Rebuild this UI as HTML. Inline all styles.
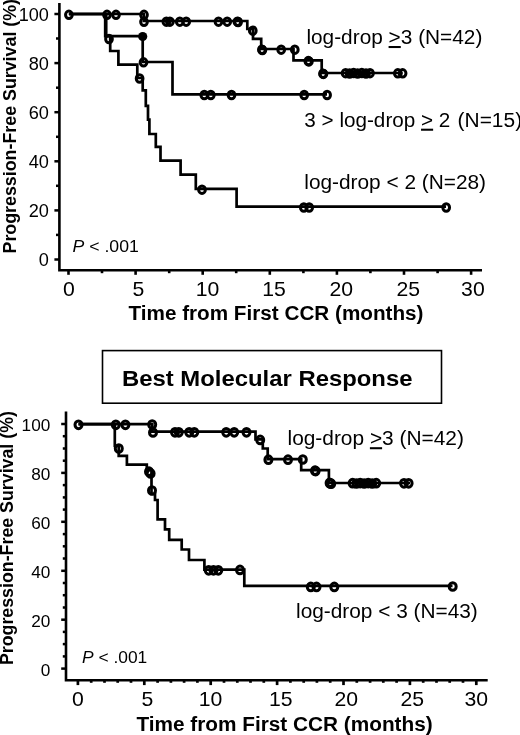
<!DOCTYPE html>
<html><head><meta charset="utf-8"><title>Progression-Free Survival</title>
<style>html,body{margin:0;padding:0;background:#fff}body{width:520px;height:735px;overflow:hidden}</style>
</head><body>
<svg width="520" height="735" viewBox="0 0 520 735" style="display:block;filter:grayscale(1)">
<rect width="520" height="735" fill="#fff"/>
<g fill="none" stroke="#000" stroke-linecap="butt" stroke-linejoin="miter">
<path d="M59.4,3 V270.2 H482" stroke-width="2.6"/>
<path d="M54.4,259.5 H59.4" stroke-width="2.5"/>
<path d="M56.0,234.9 H59.4" stroke-width="2.5"/>
<path d="M54.4,210.4 H59.4" stroke-width="2.5"/>
<path d="M56.0,185.8 H59.4" stroke-width="2.5"/>
<path d="M54.4,161.3 H59.4" stroke-width="2.5"/>
<path d="M56.0,136.8 H59.4" stroke-width="2.5"/>
<path d="M54.4,112.2 H59.4" stroke-width="2.5"/>
<path d="M56.0,87.7 H59.4" stroke-width="2.5"/>
<path d="M54.4,63.1 H59.4" stroke-width="2.5"/>
<path d="M56.0,38.5 H59.4" stroke-width="2.5"/>
<path d="M54.4,14.0 H59.4" stroke-width="2.5"/>
<path d="M68.5,270.2 V274.8" stroke-width="2.6"/>
<path d="M102.0,270.2 V273.2" stroke-width="2.6"/>
<path d="M135.6,270.2 V274.8" stroke-width="2.6"/>
<path d="M169.2,270.2 V273.2" stroke-width="2.6"/>
<path d="M202.7,270.2 V274.8" stroke-width="2.6"/>
<path d="M236.2,270.2 V273.2" stroke-width="2.6"/>
<path d="M269.8,270.2 V274.8" stroke-width="2.6"/>
<path d="M303.4,270.2 V273.2" stroke-width="2.6"/>
<path d="M336.9,270.2 V274.8" stroke-width="2.6"/>
<path d="M370.4,270.2 V273.2" stroke-width="2.6"/>
<path d="M404.0,270.2 V274.8" stroke-width="2.6"/>
<path d="M437.6,270.2 V273.2" stroke-width="2.6"/>
<path d="M471.1,270.2 V274.8" stroke-width="2.6"/>
<path d="M68.9,14.0 L143.8,14.0 L143.8,21.0 L247.3,21.0 L247.3,29.0 L253.0,29.0 L253.0,38.8 L261.2,38.8 L261.2,49.0 L293.5,49.0 L293.5,60.4 L321.7,60.4 L321.7,73.0 L402.5,73.0" stroke-width="2.7"/>
<path d="M68.9,14.0 L105.2,14.0 L105.2,36.2 L142.7,36.2 L142.7,62.0 L172.5,62.0 L172.5,94.3 L327.0,94.3" stroke-width="2.7"/>
<path d="M68.9,14.0 L106.2,14.0 L106.2,36.2 L110.2,36.2 L110.2,51.0 L118.4,51.0 L118.4,64.7 L137.3,64.7 L137.3,78.0 L142.7,78.0 L142.7,90.4 L145.8,90.4 L145.8,105.8 L148.0,105.8 L148.0,119.6 L149.4,119.6 L149.4,134.0 L155.8,134.0 L155.8,146.8 L160.5,146.8 L160.5,160.6 L180.6,160.6 L180.6,174.6 L195.8,174.6 L195.8,188.8 L236.6,188.8 L236.6,206.6 L446.0,206.6" stroke-width="2.7"/>
<ellipse cx="68.9" cy="14.8" rx="3.35" ry="3.75" stroke-width="3.0"/>
<ellipse cx="107" cy="14.8" rx="3.35" ry="3.75" stroke-width="3.0"/>
<ellipse cx="116" cy="14.8" rx="3.35" ry="3.75" stroke-width="3.0"/>
<ellipse cx="144" cy="14.8" rx="3.35" ry="3.75" stroke-width="3.0"/>
<ellipse cx="144" cy="21.8" rx="3.35" ry="3.75" stroke-width="3.0"/>
<ellipse cx="166.4" cy="21.7" rx="3.35" ry="3.75" stroke-width="3.0"/>
<ellipse cx="169.9" cy="21.7" rx="3.35" ry="3.75" stroke-width="3.0"/>
<ellipse cx="179.8" cy="21.7" rx="3.35" ry="3.75" stroke-width="3.0"/>
<ellipse cx="186.2" cy="21.7" rx="3.35" ry="3.75" stroke-width="3.0"/>
<ellipse cx="218.5" cy="21.7" rx="3.35" ry="3.75" stroke-width="3.0"/>
<ellipse cx="227.2" cy="21.7" rx="3.35" ry="3.75" stroke-width="3.0"/>
<ellipse cx="237.4" cy="21.7" rx="3.35" ry="3.75" stroke-width="3.0"/>
<ellipse cx="252.8" cy="30.7" rx="3.35" ry="3.75" stroke-width="3.0"/>
<ellipse cx="261.9" cy="49.7" rx="3.35" ry="3.75" stroke-width="3.0"/>
<ellipse cx="262.4" cy="50.1" rx="3.35" ry="3.75" stroke-width="3.0"/>
<ellipse cx="238.1" cy="22.0" rx="3.35" ry="3.75" stroke-width="3.0"/>
<ellipse cx="308.9" cy="61.4" rx="3.35" ry="3.75" stroke-width="3.0"/>
<ellipse cx="323.4" cy="73.9" rx="3.35" ry="3.75" stroke-width="3.0"/>
<ellipse cx="281.2" cy="49.7" rx="3.35" ry="3.75" stroke-width="3.0"/>
<ellipse cx="294.8" cy="49.7" rx="3.35" ry="3.75" stroke-width="3.0"/>
<ellipse cx="308.3" cy="61.1" rx="3.35" ry="3.75" stroke-width="3.0"/>
<ellipse cx="323" cy="73.7" rx="3.35" ry="3.75" stroke-width="3.0"/>
<ellipse cx="345.6" cy="73.2" rx="3.35" ry="3.75" stroke-width="3.0"/>
<ellipse cx="349.6" cy="73.5" rx="3.35" ry="3.75" stroke-width="3.0"/>
<ellipse cx="353.6" cy="73.1" rx="3.35" ry="3.75" stroke-width="3.0"/>
<ellipse cx="357.6" cy="73.5" rx="3.35" ry="3.75" stroke-width="3.0"/>
<ellipse cx="361.8" cy="73.1" rx="3.35" ry="3.75" stroke-width="3.0"/>
<ellipse cx="366.0" cy="73.5" rx="3.35" ry="3.75" stroke-width="3.0"/>
<ellipse cx="370" cy="73.2" rx="3.35" ry="3.75" stroke-width="3.0"/>
<ellipse cx="397.8" cy="73.3" rx="3.35" ry="3.75" stroke-width="3.0"/>
<ellipse cx="402.6" cy="73.3" rx="3.35" ry="3.75" stroke-width="3.0"/>
<ellipse cx="109" cy="39.0" rx="3.35" ry="3.75" stroke-width="3.0"/>
<ellipse cx="143.5" cy="62.3" rx="3.35" ry="3.75" stroke-width="3.0"/>
<ellipse cx="204.3" cy="95.0" rx="3.35" ry="3.75" stroke-width="3.0"/>
<ellipse cx="210.8" cy="95.0" rx="3.35" ry="3.75" stroke-width="3.0"/>
<ellipse cx="231.5" cy="95.0" rx="3.35" ry="3.75" stroke-width="3.0"/>
<ellipse cx="304.2" cy="95.0" rx="3.35" ry="3.75" stroke-width="3.0"/>
<ellipse cx="327.1" cy="95.0" rx="3.35" ry="3.75" stroke-width="3.0"/>
<ellipse cx="139.6" cy="78.5" rx="3.35" ry="3.75" stroke-width="3.0"/>
<ellipse cx="202" cy="189.7" rx="3.35" ry="3.75" stroke-width="3.0"/>
<ellipse cx="303.8" cy="207.5" rx="3.35" ry="3.75" stroke-width="3.0"/>
<ellipse cx="309.2" cy="207.5" rx="3.35" ry="3.75" stroke-width="3.0"/>
<ellipse cx="446.2" cy="207.5" rx="3.35" ry="3.75" stroke-width="3.0"/>
<circle cx="142.7" cy="36.5" r="4.6" fill="#000" stroke="none"/>
<rect x="102.5" y="350.6" width="339" height="52.6" stroke-width="1.6"/>
<path d="M66.0,411.5 V680.2 H487.7" stroke-width="2.6"/>
<path d="M61.2,668.6 H66.0" stroke-width="2.5"/>
<path d="M62.8,656.4 H66.0" stroke-width="2.5"/>
<path d="M62.8,644.1 H66.0" stroke-width="2.5"/>
<path d="M62.8,631.9 H66.0" stroke-width="2.5"/>
<path d="M61.2,619.7 H66.0" stroke-width="2.5"/>
<path d="M62.8,607.5 H66.0" stroke-width="2.5"/>
<path d="M62.8,595.2 H66.0" stroke-width="2.5"/>
<path d="M62.8,583.0 H66.0" stroke-width="2.5"/>
<path d="M61.2,570.8 H66.0" stroke-width="2.5"/>
<path d="M62.8,558.5 H66.0" stroke-width="2.5"/>
<path d="M62.8,546.3 H66.0" stroke-width="2.5"/>
<path d="M62.8,534.1 H66.0" stroke-width="2.5"/>
<path d="M61.2,521.8 H66.0" stroke-width="2.5"/>
<path d="M62.8,509.6 H66.0" stroke-width="2.5"/>
<path d="M62.8,497.4 H66.0" stroke-width="2.5"/>
<path d="M62.8,485.1 H66.0" stroke-width="2.5"/>
<path d="M61.2,472.9 H66.0" stroke-width="2.5"/>
<path d="M62.8,460.7 H66.0" stroke-width="2.5"/>
<path d="M62.8,448.5 H66.0" stroke-width="2.5"/>
<path d="M62.8,436.2 H66.0" stroke-width="2.5"/>
<path d="M61.2,424.0 H66.0" stroke-width="2.5"/>
<path d="M77.9,680.2 V685.1" stroke-width="2.7"/>
<path d="M91.2,680.2 V682.8" stroke-width="2.7"/>
<path d="M104.5,680.2 V682.8" stroke-width="2.7"/>
<path d="M117.7,680.2 V682.8" stroke-width="2.7"/>
<path d="M131.0,680.2 V682.8" stroke-width="2.7"/>
<path d="M144.3,680.2 V685.1" stroke-width="2.7"/>
<path d="M157.6,680.2 V682.8" stroke-width="2.7"/>
<path d="M170.9,680.2 V682.8" stroke-width="2.7"/>
<path d="M184.1,680.2 V682.8" stroke-width="2.7"/>
<path d="M197.4,680.2 V682.8" stroke-width="2.7"/>
<path d="M210.7,680.2 V685.1" stroke-width="2.7"/>
<path d="M224.0,680.2 V682.8" stroke-width="2.7"/>
<path d="M237.3,680.2 V682.8" stroke-width="2.7"/>
<path d="M250.5,680.2 V682.8" stroke-width="2.7"/>
<path d="M263.8,680.2 V682.8" stroke-width="2.7"/>
<path d="M277.1,680.2 V685.1" stroke-width="2.7"/>
<path d="M290.4,680.2 V682.8" stroke-width="2.7"/>
<path d="M303.7,680.2 V682.8" stroke-width="2.7"/>
<path d="M316.9,680.2 V682.8" stroke-width="2.7"/>
<path d="M330.2,680.2 V682.8" stroke-width="2.7"/>
<path d="M343.5,680.2 V685.1" stroke-width="2.7"/>
<path d="M356.8,680.2 V682.8" stroke-width="2.7"/>
<path d="M370.1,680.2 V682.8" stroke-width="2.7"/>
<path d="M383.3,680.2 V682.8" stroke-width="2.7"/>
<path d="M396.6,680.2 V682.8" stroke-width="2.7"/>
<path d="M409.9,680.2 V685.1" stroke-width="2.7"/>
<path d="M423.2,680.2 V682.8" stroke-width="2.7"/>
<path d="M436.5,680.2 V682.8" stroke-width="2.7"/>
<path d="M449.7,680.2 V682.8" stroke-width="2.7"/>
<path d="M463.0,680.2 V682.8" stroke-width="2.7"/>
<path d="M476.3,680.2 V685.1" stroke-width="2.7"/>
<path d="M78.5,424.2 L152.3,424.2 L152.3,431.6 L255.5,431.6 L255.5,439.3 L262.8,439.3 L262.8,448.5 L267.7,448.5 L267.7,459.2 L301.2,459.2 L301.2,470.2 L328.9,470.2 L328.9,483.0 L410.0,483.0" stroke-width="2.7"/>
<path d="M78.5,424.2 L114.8,424.2 L114.8,446.0 L118.7,446.0 L118.7,455.8 L126.9,455.8 L126.9,464.6 L146.8,464.6 L146.8,470.0 L151.5,470.0 L151.5,494.0 L155.0,494.0 L155.0,500.0 L157.6,500.0 L157.6,519.3 L165.0,519.3 L165.0,529.4 L169.2,529.4 L169.2,539.8 L181.7,539.8 L181.7,549.5 L189.0,549.5 L189.0,560.0 L204.4,560.0 L204.4,569.6 L244.3,569.6 L244.3,585.8 L452.5,585.8" stroke-width="2.7"/>
<ellipse cx="78.5" cy="424.8" rx="3.5" ry="3.85" stroke-width="3.0"/>
<ellipse cx="115.8" cy="424.8" rx="3.5" ry="3.85" stroke-width="3.0"/>
<ellipse cx="125.4" cy="424.8" rx="3.5" ry="3.85" stroke-width="3.0"/>
<ellipse cx="152.2" cy="424.5" rx="3.5" ry="3.85" stroke-width="3.0"/>
<ellipse cx="153" cy="432.5" rx="3.5" ry="3.85" stroke-width="3.0"/>
<ellipse cx="175" cy="432.3" rx="3.5" ry="3.85" stroke-width="3.0"/>
<ellipse cx="178.8" cy="432.3" rx="3.5" ry="3.85" stroke-width="3.0"/>
<ellipse cx="189.2" cy="432.3" rx="3.5" ry="3.85" stroke-width="3.0"/>
<ellipse cx="194.3" cy="432.3" rx="3.5" ry="3.85" stroke-width="3.0"/>
<ellipse cx="226.2" cy="432.3" rx="3.5" ry="3.85" stroke-width="3.0"/>
<ellipse cx="234.2" cy="432.3" rx="3.5" ry="3.85" stroke-width="3.0"/>
<ellipse cx="246.5" cy="432.3" rx="3.5" ry="3.85" stroke-width="3.0"/>
<ellipse cx="260.2" cy="439.9" rx="3.5" ry="3.85" stroke-width="3.0"/>
<ellipse cx="268.4" cy="459.7" rx="3.5" ry="3.85" stroke-width="3.0"/>
<ellipse cx="288" cy="459.7" rx="3.5" ry="3.85" stroke-width="3.0"/>
<ellipse cx="302.8" cy="459.5" rx="3.5" ry="3.85" stroke-width="3.0"/>
<ellipse cx="315" cy="470.7" rx="3.5" ry="3.85" stroke-width="3.0"/>
<ellipse cx="330.2" cy="483.5" rx="3.5" ry="3.85" stroke-width="3.0"/>
<ellipse cx="329.6" cy="482.9" rx="3.5" ry="3.85" stroke-width="3.0"/>
<ellipse cx="331.2" cy="483.7" rx="3.5" ry="3.85" stroke-width="3.0"/>
<ellipse cx="352.6" cy="483.2" rx="3.5" ry="3.85" stroke-width="3.0"/>
<ellipse cx="356.4" cy="483.5" rx="3.5" ry="3.85" stroke-width="3.0"/>
<ellipse cx="360.2" cy="483.1" rx="3.5" ry="3.85" stroke-width="3.0"/>
<ellipse cx="364.2" cy="483.5" rx="3.5" ry="3.85" stroke-width="3.0"/>
<ellipse cx="368.2" cy="483.1" rx="3.5" ry="3.85" stroke-width="3.0"/>
<ellipse cx="372.2" cy="483.5" rx="3.5" ry="3.85" stroke-width="3.0"/>
<ellipse cx="376.2" cy="483.2" rx="3.5" ry="3.85" stroke-width="3.0"/>
<ellipse cx="315.6" cy="471.1" rx="3.5" ry="3.85" stroke-width="3.0"/>
<ellipse cx="404" cy="483.3" rx="3.5" ry="3.85" stroke-width="3.0"/>
<ellipse cx="408.6" cy="483.3" rx="3.5" ry="3.85" stroke-width="3.0"/>
<ellipse cx="118.8" cy="448.5" rx="3.5" ry="3.85" stroke-width="3.0"/>
<ellipse cx="149" cy="471.7" rx="3.5" ry="3.85" stroke-width="3.0"/>
<ellipse cx="150.6" cy="473.5" rx="3.5" ry="3.85" stroke-width="3.0"/>
<ellipse cx="152" cy="490.5" rx="3.5" ry="3.85" stroke-width="3.0"/>
<ellipse cx="208.7" cy="570.3" rx="3.5" ry="3.85" stroke-width="3.0"/>
<ellipse cx="213.5" cy="570.3" rx="3.5" ry="3.85" stroke-width="3.0"/>
<ellipse cx="218.3" cy="570.3" rx="3.5" ry="3.85" stroke-width="3.0"/>
<ellipse cx="240" cy="569.9" rx="3.5" ry="3.85" stroke-width="3.0"/>
<ellipse cx="310.8" cy="586.9" rx="3.5" ry="3.85" stroke-width="3.0"/>
<ellipse cx="316.5" cy="586.9" rx="3.5" ry="3.85" stroke-width="3.0"/>
<ellipse cx="334.3" cy="586.9" rx="3.5" ry="3.85" stroke-width="3.0"/>
<ellipse cx="452.7" cy="586.5" rx="3.5" ry="3.85" stroke-width="3.0"/>
</g>
<g font-family="'Liberation Sans', sans-serif" fill="#000">
<text x="48.9" y="266.1" font-size="17.6" text-anchor="end" textLength="10.1" lengthAdjust="spacingAndGlyphs">0</text>
<text x="48.9" y="217.0" font-size="17.6" text-anchor="end" textLength="20.2" lengthAdjust="spacingAndGlyphs">20</text>
<text x="48.9" y="167.9" font-size="17.6" text-anchor="end" textLength="20.2" lengthAdjust="spacingAndGlyphs">40</text>
<text x="48.9" y="118.8" font-size="17.6" text-anchor="end" textLength="20.2" lengthAdjust="spacingAndGlyphs">60</text>
<text x="48.9" y="69.7" font-size="17.6" text-anchor="end" textLength="20.2" lengthAdjust="spacingAndGlyphs">80</text>
<text x="48.9" y="20.6" font-size="17.6" text-anchor="end" textLength="30.2" lengthAdjust="spacingAndGlyphs">100</text>
<text x="68.8" y="295.9" font-size="20.6" text-anchor="middle" textLength="11.8" lengthAdjust="spacingAndGlyphs">0</text>
<text x="138.3" y="295.9" font-size="20.6" text-anchor="middle" textLength="11.8" lengthAdjust="spacingAndGlyphs">5</text>
<text x="207.6" y="295.9" font-size="20.6" text-anchor="middle" textLength="23.6" lengthAdjust="spacingAndGlyphs">10</text>
<text x="274.0" y="295.9" font-size="20.6" text-anchor="middle" textLength="23.6" lengthAdjust="spacingAndGlyphs">15</text>
<text x="341.2" y="295.9" font-size="20.6" text-anchor="middle" textLength="23.6" lengthAdjust="spacingAndGlyphs">20</text>
<text x="408.2" y="295.9" font-size="20.6" text-anchor="middle" textLength="23.6" lengthAdjust="spacingAndGlyphs">25</text>
<text x="472.9" y="295.9" font-size="20.6" text-anchor="middle" textLength="23.6" lengthAdjust="spacingAndGlyphs">30</text>
<text x="50.3" y="675.5" font-size="17.2" text-anchor="end">0</text>
<text x="50.3" y="626.6" font-size="17.2" text-anchor="end">20</text>
<text x="50.3" y="577.7" font-size="17.2" text-anchor="end">40</text>
<text x="50.3" y="528.7" font-size="17.2" text-anchor="end">60</text>
<text x="50.3" y="479.8" font-size="17.2" text-anchor="end">80</text>
<text x="50.3" y="430.9" font-size="17.2" text-anchor="end">100</text>
<text x="78.0" y="705.8" font-size="20.6" text-anchor="middle" textLength="11.8" lengthAdjust="spacingAndGlyphs">0</text>
<text x="147.3" y="705.8" font-size="20.6" text-anchor="middle" textLength="11.8" lengthAdjust="spacingAndGlyphs">5</text>
<text x="210.6" y="705.8" font-size="20.6" text-anchor="middle" textLength="23.6" lengthAdjust="spacingAndGlyphs">10</text>
<text x="280.7" y="705.8" font-size="20.6" text-anchor="middle" textLength="23.6" lengthAdjust="spacingAndGlyphs">15</text>
<text x="346.2" y="705.8" font-size="20.6" text-anchor="middle" textLength="23.6" lengthAdjust="spacingAndGlyphs">20</text>
<text x="412.2" y="705.8" font-size="20.6" text-anchor="middle" textLength="23.6" lengthAdjust="spacingAndGlyphs">25</text>
<text x="476.3" y="705.8" font-size="20.6" text-anchor="middle" textLength="23.6" lengthAdjust="spacingAndGlyphs">30</text>
<text transform="translate(16.1,253.5) rotate(-90)" font-size="17.6" font-weight="bold" textLength="254.5" lengthAdjust="spacingAndGlyphs">Progression-Free Survival (%)</text>
<text transform="translate(13.0,665.1) rotate(-90)" font-size="17.6" font-weight="bold" textLength="254" lengthAdjust="spacingAndGlyphs">Progression-Free Survival (%)</text>
<text x="128.5" y="319.6" font-size="20" textLength="295" lengthAdjust="spacingAndGlyphs" font-weight="bold">Time from First CCR (months)</text>
<text x="136.4" y="730.7" font-size="20" textLength="296.3" lengthAdjust="spacingAndGlyphs" font-weight="bold">Time from First CCR (months)</text>
<text x="122" y="385.8" font-size="22" textLength="290.5" lengthAdjust="spacingAndGlyphs" font-weight="bold">Best Molecular Response</text>
<text x="72.5" y="252.3" font-size="17" textLength="66.3" lengthAdjust="spacingAndGlyphs"><tspan font-style="italic">P</tspan> &lt; .001</text>
<text x="82.0" y="662.7" font-size="17" textLength="65.3" lengthAdjust="spacingAndGlyphs"><tspan font-style="italic">P</tspan> &lt; .001</text>
<text x="306.4" y="44.0" font-size="20.5" textLength="176" lengthAdjust="spacingAndGlyphs">log-drop <tspan text-decoration="underline">&gt;</tspan>3 (N=42)</text>
<text x="304.3" y="126.7" font-size="20.5" textLength="146.1" lengthAdjust="spacingAndGlyphs">3 &gt; log-drop <tspan text-decoration="underline">&gt;</tspan> 2</text>
<text x="457.6" y="126.7" font-size="20.5" textLength="64.5" lengthAdjust="spacingAndGlyphs">(N=15)</text>
<text x="304.3" y="188.6" font-size="20.5" textLength="181.7" lengthAdjust="spacingAndGlyphs">log-drop &lt; 2 (N=28)</text>
<text x="287.5" y="445.2" font-size="20.5" textLength="176.4" lengthAdjust="spacingAndGlyphs">log-drop <tspan text-decoration="underline">&gt;</tspan>3 (N=42)</text>
<text x="296.0" y="617.6" font-size="20.5" textLength="181.8" lengthAdjust="spacingAndGlyphs">log-drop &lt; 3 (N=43)</text>
</g>
</svg>
</body></html>
